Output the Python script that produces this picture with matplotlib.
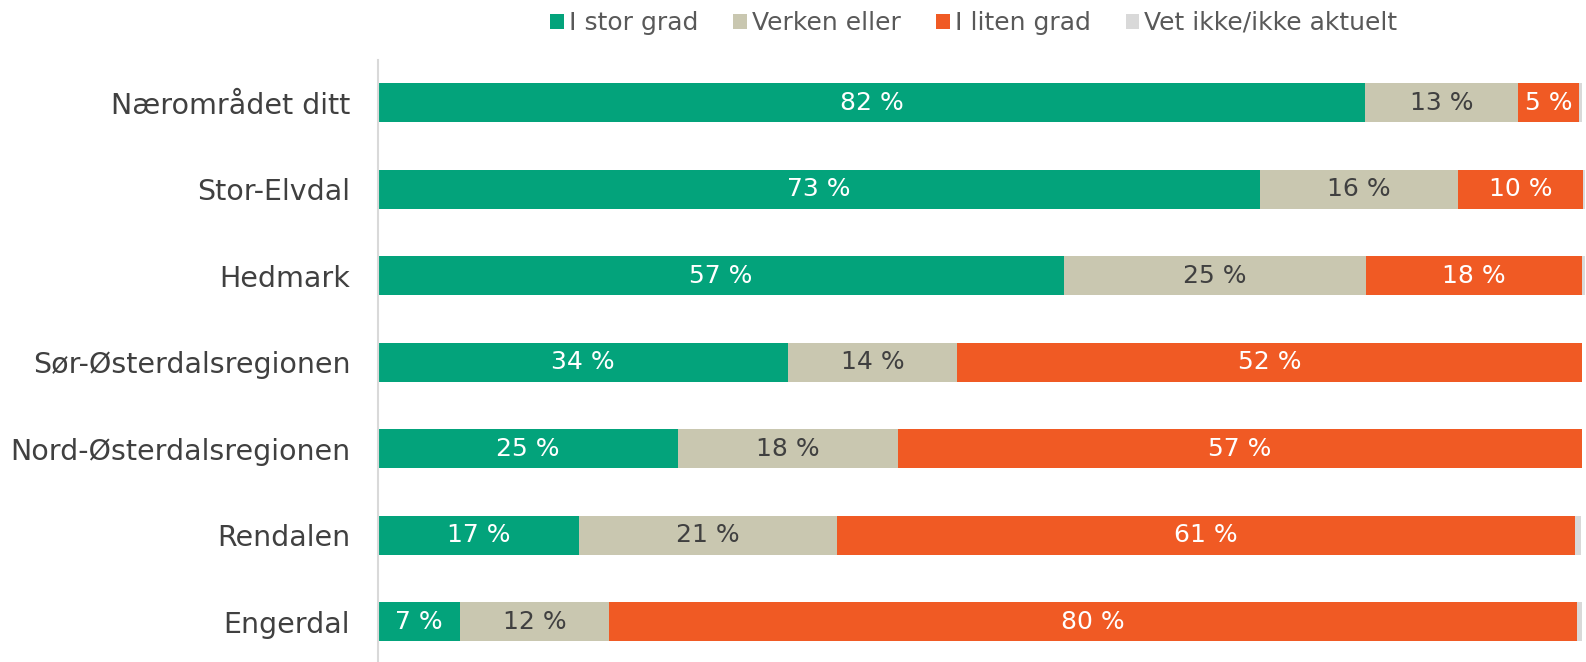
import matplotlib.pyplot as plt

regions = ["Nærområdet ditt", "Stor-Elvdal", "Hedmark", "Sør-Østerdalsregionen",
           "Nord-Østerdalsregionen", "Rendalen", "Engerdal"]
series_names = ["I stor grad", "Verken eller", "I liten grad", "Vet ikke/ikke aktuelt"]

stor_grad = [82.0, 73.3, 57.0, 34.1, 24.9, 16.7, 6.8]
verken = [12.7, 16.4, 25.1, 14.0, 18.3, 21.4, 12.4]
liten_grad = [5.1, 10.4, 17.9, 51.9, 56.8, 61.3, 80.4]
vet_ikke = [0.2, 0.2, 0.3, 0.0, 0.0, 0.5, 0.4]

colors = ["#03A37B", "#C9C7B0", "#F05A24", "#D9D9D9"]
label_colors = ["white", "#404040", "white", None]

plt.rcParams['font.family'] = ['DejaVu Sans']

fig = plt.figure(figsize=(15.86, 6.62), dpi=100)
ax = fig.add_axes([378 / 1586, 1 - 664.8 / 662, 1 - 378 / 1586, 605.2 / 662])

y = list(range(len(regions)))
left = [0.0] * len(regions)
for vals, name, col, lcol in zip([stor_grad, verken, liten_grad, vet_ikke],
                                 series_names, colors, label_colors):
    bars = ax.barh(y, vals, left=left, height=0.45, color=col, label=name)
    if lcol is not None:
        for b, v in zip(bars, vals):
            ax.text(b.get_x() + b.get_width() / 2, b.get_y() + b.get_height() / 2,
                    f"{round(v)} %", ha="center", va="center", color=lcol, fontsize=18)
    left = [l + v for l, v in zip(left, vals)]

ax.set_xlim(0, 100.35)
ax.set_ylim(6.5, -0.5)
ax.set_yticks(y)
ax.set_yticklabels(regions, fontsize=20.5, color="#404040")
ax.tick_params(axis="y", length=0, pad=20)
ax.set_xticks([])
for s in ["top", "right", "bottom"]:
    ax.spines[s].set_visible(False)
ax.spines["left"].set_color("#D9D9D9")
ax.spines["left"].set_linewidth(1.5)

leg = fig.legend(loc="center", bbox_to_anchor=(0.614, 1 - 23 / 662), ncol=4, frameon=False,
                 fontsize=18, handlelength=0.55, handleheight=0.55, handletextpad=0.2,
                 columnspacing=1.4)
for t in leg.get_texts():
    t.set_color("#595959")

fig.savefig("out.png", dpi=100)
